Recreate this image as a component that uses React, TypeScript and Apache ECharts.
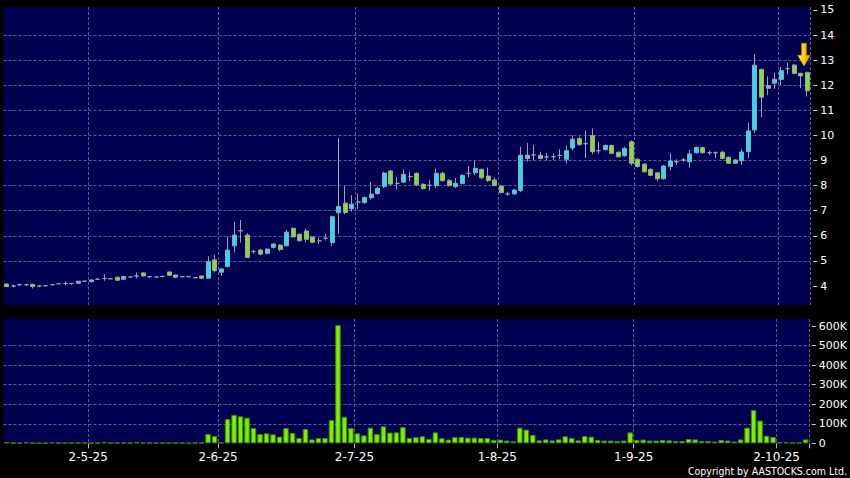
import React, { useEffect, useRef } from 'react';
import * as echarts from 'echarts';

const categories = [
  '10-4-25','11-4-25','14-4-25','15-4-25','16-4-25','17-4-25','22-4-25','23-4-25','24-4-25','25-4-25','28-4-25','29-4-25','30-4-25',
  '2-5-25','6-5-25','7-5-25','8-5-25','9-5-25','12-5-25','13-5-25','14-5-25','15-5-25','16-5-25','19-5-25','20-5-25','21-5-25','22-5-25','23-5-25','26-5-25','27-5-25','28-5-25','29-5-25','30-5-25',
  '2-6-25','3-6-25','4-6-25','5-6-25','6-6-25','9-6-25','10-6-25','11-6-25','12-6-25','13-6-25','16-6-25','17-6-25','18-6-25','19-6-25','20-6-25','23-6-25','24-6-25','25-6-25','26-6-25','27-6-25','30-6-25',
  '2-7-25','3-7-25','4-7-25','7-7-25','8-7-25','9-7-25','10-7-25','11-7-25','14-7-25','15-7-25','16-7-25','17-7-25','18-7-25','21-7-25','22-7-25','23-7-25','24-7-25','25-7-25','28-7-25','29-7-25','30-7-25','31-7-25',
  '1-8-25','4-8-25','5-8-25','6-8-25','7-8-25','8-8-25','11-8-25','12-8-25','13-8-25','14-8-25','15-8-25','18-8-25','19-8-25','20-8-25','21-8-25','22-8-25','25-8-25','26-8-25','27-8-25','28-8-25','29-8-25',
  '1-9-25','2-9-25','3-9-25','4-9-25','5-9-25','8-9-25','9-9-25','10-9-25','11-9-25','12-9-25','15-9-25','16-9-25','17-9-25','18-9-25','19-9-25','22-9-25','23-9-25','24-9-25','25-9-25','26-9-25','29-9-25','30-9-25',
  '2-10-25','3-10-25','6-10-25','8-10-25','9-10-25',
];

const opens = [
  4.08,4.00,4.05,4.05,4.07,4.00,4.01,4.05,4.09,4.10,4.10,4.11,4.19,
  4.17,4.27,4.30,4.29,4.35,4.27,4.36,4.40,4.52,4.37,4.36,4.38,4.56,4.44,4.37,4.37,4.33,4.40,4.31,5.04,
  4.55,4.77,5.60,6.20,6.03,5.37,5.43,5.30,5.54,5.63,5.60,6.30,6.06,6.19,5.95,5.80,5.90,5.73,6.92,7.30,7.08,
  7.35,7.32,7.52,7.68,7.96,8.58,8.09,8.14,8.36,8.49,8.05,8.01,8.00,8.49,8.21,7.96,8.08,8.49,8.51,8.65,8.38,8.22,
  7.98,7.67,7.67,7.80,9.08,9.22,9.21,9.14,9.15,9.20,9.05,9.50,9.87,9.67,10.00,9.39,9.43,9.60,9.33,9.19,9.75,
  9.05,8.85,8.65,8.51,8.27,8.76,8.95,9.02,8.95,9.31,9.52,9.31,9.31,9.33,9.13,8.89,8.99,9.35,10.22,12.63,11.88,12.08,
  12.23,12.66,12.80,12.47,12.50,
];

const closes = [
  3.98,4.00,4.05,4.05,3.98,4.00,4.01,4.05,4.09,4.10,4.10,4.19,4.19,
  4.24,4.27,4.30,4.29,4.23,4.38,4.36,4.40,4.40,4.37,4.36,4.38,4.43,4.35,4.37,4.37,4.33,4.31,4.97,4.61,
  4.68,5.43,6.03,6.20,5.14,5.37,5.27,5.47,5.67,5.45,6.14,5.96,5.80,5.86,5.74,5.80,5.90,6.76,7.17,6.93,7.26,
  7.35,7.53,7.66,7.89,8.50,8.06,8.09,8.45,8.36,8.03,7.88,8.01,8.49,8.20,8.00,8.09,8.41,8.49,8.69,8.31,8.20,8.00,
  7.72,7.67,7.82,9.21,9.21,9.22,9.08,9.14,9.15,9.20,9.39,9.85,9.63,9.67,9.35,9.39,9.60,9.29,9.15,9.48,8.89,
  8.76,8.55,8.41,8.27,8.78,8.98,8.95,9.02,9.26,9.52,9.31,9.31,9.31,9.08,8.89,9.02,9.34,10.18,12.80,11.52,11.98,12.24,
  12.58,12.66,12.47,12.37,11.78,
];

const lows = [
  3.95,3.94,4.01,4.00,3.90,3.96,3.99,4.03,4.07,4.02,4.05,4.10,4.17,
  4.15,4.25,4.21,4.27,4.21,4.26,4.34,4.31,4.38,4.33,4.34,4.34,4.40,4.31,4.35,4.35,4.31,4.29,4.30,4.54,
  4.40,4.75,5.34,5.73,5.12,5.28,5.22,5.26,5.50,5.38,5.58,5.92,5.77,5.75,5.70,5.68,5.80,5.60,6.08,6.86,6.97,
  7.07,7.28,7.45,7.64,7.90,8.02,7.85,8.10,8.18,7.98,7.83,7.80,7.90,8.15,7.96,7.90,8.05,8.33,8.42,8.26,8.15,7.97,
  7.68,7.60,7.64,7.74,8.95,9.00,9.05,9.00,9.02,9.05,8.90,9.40,9.60,9.10,9.25,9.27,9.40,9.25,9.12,9.15,8.80,
  8.72,8.52,8.38,8.17,8.24,8.60,8.82,8.95,8.72,9.28,9.28,9.22,9.10,9.05,8.86,8.86,8.82,9.09,10.10,10.72,11.60,11.85,
  12.00,12.43,12.44,11.88,11.55,
];

const highs = [
  4.10,4.06,4.10,4.08,4.08,4.04,4.02,4.06,4.10,4.19,4.12,4.20,4.21,
  4.27,4.30,4.47,4.30,4.37,4.39,4.37,4.53,4.55,4.40,4.37,4.42,4.58,4.45,4.38,4.38,4.35,4.42,5.18,5.24,
  4.70,5.96,6.56,6.63,6.10,5.45,5.47,5.50,5.72,5.66,6.23,6.33,6.08,6.29,5.97,5.92,6.07,6.80,9.90,7.98,7.62,
  7.68,7.55,8.15,7.96,8.55,8.62,8.35,8.65,8.55,8.52,8.10,8.22,8.68,8.55,8.25,8.30,8.45,8.78,8.99,8.68,8.72,8.33,
  8.03,7.75,7.86,9.55,9.70,9.62,9.35,9.30,9.28,9.45,9.60,10.00,9.95,10.20,10.28,9.73,9.64,9.63,9.36,9.55,9.80,
  9.08,8.90,8.68,8.54,8.82,9.30,9.05,9.10,9.42,9.56,9.55,9.40,9.36,9.38,9.16,9.05,9.46,10.50,13.24,12.66,12.35,12.50,
  12.73,12.90,12.85,12.50,12.55,
];

// volume in thousands of shares
const volumesK = [
  6,2,2,5,2,1,2,5,2,2,2,3,2,
  2,2,6,2,3,3,2,5,3,2,2,2,2,2,2,2,2,3,48,37,
  4,124,146,138,131,78,48,51,46,34,78,53,27,73,20,27,27,119,605,136,78,
  51,41,80,48,87,55,56,83,27,31,36,22,56,26,19,32,32,29,29,27,27,17,
  19,14,10,80,70,43,15,20,15,20,36,27,15,37,34,17,14,14,12,14,56,
  17,19,14,14,17,15,12,12,22,20,12,12,9,17,14,9,20,80,170,116,39,32,
  5,5,2,3,20,
];

const priceTicks = [4, 5, 6, 7, 8, 9, 10, 11, 12, 13, 14, 15];
const volumeTicksK = [0, 100, 200, 300, 400, 500, 600];

const priceMin = 3.243;
const priceMax = 15.116;
const volumeMaxK = 636;
const arrowPrice = 12.76;
const copyright = 'Copyright by AASTOCKS.com Ltd.';

export default function App() {
  const ref = useRef<HTMLDivElement>(null);

  useEffect(() => {
    document.body.style.margin = '0';
    document.body.style.background = '#000';
    const chart = echarts.init(ref.current!, null, { renderer: 'svg' });

    const monthStart = new Set<number>();
    categories.forEach((c, i) => {
      if (i > 0 && c.split('-')[1] !== categories[i - 1].split('-')[1]) monthStart.add(i);
    });
    const isMonthStart = (i: number) => monthStart.has(i);
    const candles = categories.map((_, i) => [opens[i], closes[i], lows[i], highs[i]]);
    const arrowIndex = categories.length - 1;

    const gridLine = { color: '#5c5c98', type: [3, 2] as number[], width: 1 };
    const font = 'DejaVu Sans';

    chart.setOption({
      animation: false,
      backgroundColor: '#000000',
      grid: [
        { left: 3.5, right: 39.7, top: 7, height: 298, show: true, backgroundColor: '#000050', borderWidth: 0 },
        { left: 3.5, right: 39.7, top: 319, height: 124.3, show: true, backgroundColor: '#000050', borderWidth: 0 },
      ],
      xAxis: [
        {
          type: 'category', gridIndex: 0, data: categories, boundaryGap: true,
          axisLine: { show: false }, axisTick: { show: false }, axisLabel: { show: false },
          splitLine: { show: true, interval: (i: number) => isMonthStart(i), lineStyle: gridLine },
        },
        {
          type: 'category', gridIndex: 1, data: categories, boundaryGap: true,
          axisLine: { show: false },
          axisTick: { show: true, interval: (i: number) => isMonthStart(i), length: 5, lineStyle: { color: '#bbbbbb' } },
          axisLabel: {
            show: true, interval: (i: number) => isMonthStart(i), color: '#ffffff', fontSize: 12,
            fontFamily: font, margin: 8, padding: [0, 6, 0, 0],
          },
          splitLine: { show: true, interval: (i: number) => isMonthStart(i), lineStyle: gridLine },
        },
      ],
      yAxis: [
        {
          type: 'value', gridIndex: 0, position: 'right', min: priceMin, max: priceMax, splitNumber: 12, offset: 3,
          axisLine: { show: false },
          axisTick: { show: true, length: 4, customValues: priceTicks, lineStyle: { color: '#d0d0d0' } },
          axisLabel: {
            color: '#ffffff', fontSize: 11, fontFamily: font, margin: 7, customValues: priceTicks,
            formatter: (v: number) => (Math.abs(v - Math.round(v)) < 1e-6 ? String(Math.round(v)) : ''),
          },
          splitLine: { show: true, showMinLine: false, showMaxLine: false, lineStyle: gridLine },
        },
        {
          type: 'value', gridIndex: 1, position: 'right', min: 0, max: volumeMaxK, interval: 100, offset: 3,
          axisLine: { show: false },
          axisTick: { show: true, length: 4, customValues: volumeTicksK, lineStyle: { color: '#d0d0d0' } },
          axisLabel: {
            color: '#ffffff', fontSize: 11, fontFamily: font, margin: 7, customValues: volumeTicksK,
            formatter: (v: number) => (v % 100 === 0 ? (v === 0 ? '0' : `${v}K`) : ''),
          },
          splitLine: { show: true, showMinLine: false, showMaxLine: false, lineStyle: gridLine },
        },
      ],
      series: [
        {
          type: 'candlestick', xAxisIndex: 0, yAxisIndex: 0, data: candles, barWidth: 4.5,
          itemStyle: {
            color: '#18e4f4', color0: '#84e01e',
            borderColor: '#a0a0b4', borderColor0: '#a0a0b4', borderColorDoji: '#a0a0b4', borderWidth: 1,
          },
          markPoint: {
            silent: true,
            data: [
              {
                coord: [categories[arrowIndex], arrowPrice],
                symbol: 'path://M4,0L9,0L9,12L13,12L6.5,23L0,12L4,12Z',
                symbolSize: [13, 23],
                symbolOffset: [-3, '-50%'],
                itemStyle: {
                  color: new echarts.graphic.LinearGradient(0, 0, 1, 0, [
                    { offset: 0, color: '#ffec70' },
                    { offset: 0.5, color: '#ffcc00' },
                    { offset: 1, color: '#d88a00' },
                  ]),
                  borderColor: '#b87400', borderWidth: 0.5,
                },
                label: { show: false },
              },
            ],
          },
        },
        {
          type: 'bar', xAxisIndex: 1, yAxisIndex: 1, data: volumesK, barWidth: 5.5,
          itemStyle: { color: '#7cf000', borderColor: '#3f8a00', borderWidth: 1 },
        },
      ],
      graphic: [
        {
          type: 'text', right: 3, top: 465,
          style: { text: copyright, fill: '#ffffff', fontSize: 10.5, fontFamily: "'DejaVu Sans Condensed', 'DejaVu Sans'" },
        },
      ],
    });

    return () => chart.dispose();
  }, []);

  return <div ref={ref} style={{ width: 850, height: 478 }} />;
}
